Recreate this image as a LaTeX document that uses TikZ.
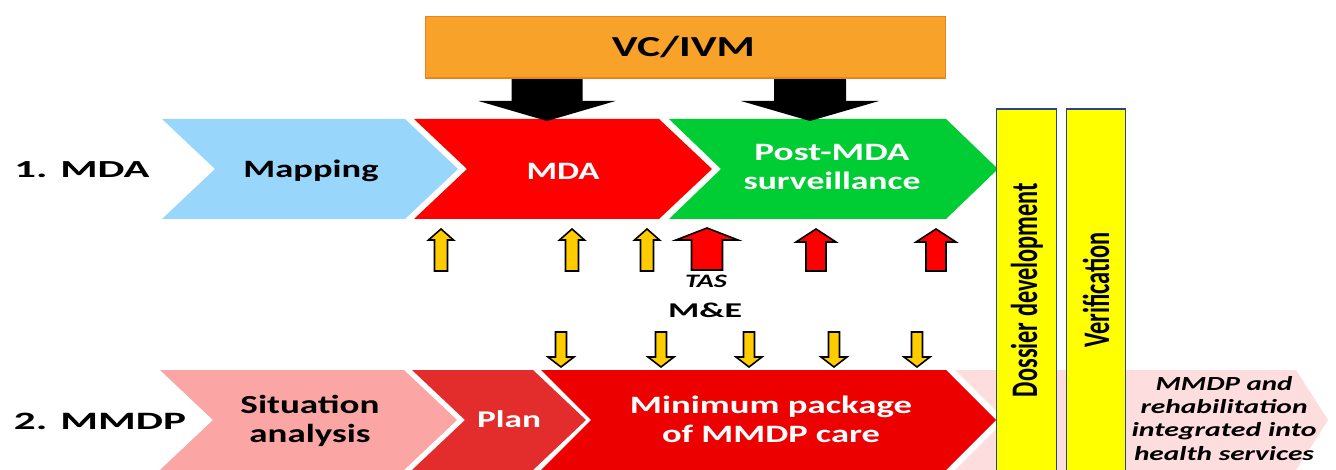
\documentclass[tikz,border=0pt]{standalone}
\usepackage{fontspec}
\setmainfont{Carlito}
\usepackage{graphicx}
\newcommand{\fitw}[2]{\resizebox{#1}{\height}{#2}}
\newcommand{\wide}[1]{\scalebox{1.5}[1]{#1}}
\definecolor{cMap}{RGB}{153,214,252}
\definecolor{cMDA}{RGB}{255,0,0}
\definecolor{cPost}{RGB}{0,204,51}
\definecolor{cSit}{RGB}{251,165,165}
\definecolor{cPlan}{RGB}{227,45,45}
\definecolor{cMin}{RGB}{236,0,0}
\definecolor{cInt}{RGB}{253,221,221}
\definecolor{cOrange}{RGB}{249,162,42}
\definecolor{cOrangeB}{RGB}{232,132,30}
\definecolor{cYel}{RGB}{255,255,0}
\definecolor{cBoxB}{RGB}{40,70,140}
\definecolor{cGold}{RGB}{255,204,0}
% chevron: colour, left, right, top, depth
\newcommand{\chevron}[5]{\fill[#1] (#2,#4) -- (#3,#4) -- ({#3+#5},{#4+50}) -- (#3,{#4+100}) -- (#2,{#4+100}) -- ({#2+#5},{#4+50}) -- cycle;}
% block arrow: style, cx, tip y, head base y, end y, head half width, shaft half width
\newcommand{\barrow}[7]{\filldraw[#1] (#2,#3) -- ({#2+#6},#4) -- ({#2+#7},#4) -- ({#2+#7},#5) -- ({#2-#7},#5) -- ({#2-#7},#4) -- ({#2-#6},#4) -- cycle;}
\begin{document}
\begin{tikzpicture}[x=1pt,y=-1pt,
  lbl/.style={inner sep=0pt, anchor=base, font=\bfseries},
  ml/.style={inner sep=0pt, anchor=base, align=center, font=\bfseries},
  ybox/.style={fill=cYel, draw=cBoxB, line width=1.5pt},
  goldup/.style={fill=cGold, draw=black, line width=1.6pt, line join=miter},
  redup/.style={fill=cMDA, draw=black, line width=1.6pt, line join=miter},
  blk/.style={fill=black, draw=none}]
\useasboundingbox (0,0) rectangle (1336,470);
\fill[white] (0,0) rectangle (1336,470);

% row 1 chevrons
\chevron{cMap}{162}{405}{119}{53}
\chevron{cMDA}{414}{659}{119}{53}
\chevron{cPost}{669}{946}{119}{52}
% row 2 chevrons
\fill[cInt] (955,370) -- (1296,370) -- (1328,420) -- (1296,470) -- (955,470) -- (1005,420) -- cycle;
\chevron{cSit}{160}{404}{370}{53}
\chevron{cPlan}{412}{533}{370}{53}
\chevron{cMin}{541}{946}{370}{50}

% vertical boxes
\draw[ybox] (996.5,109) rectangle (1056.5,476);
\draw[ybox] (1066.5,109) rectangle (1125.5,476);
\node[inner sep=0pt] (dossier) at (1027,290) {\wide{\rotatebox{90}{\fitw{214pt}{\fontsize{25}{30}\selectfont\bfseries Dossier development}}}};
\node[inner sep=0pt] (verif) at (1096,290) {\wide{\rotatebox{90}{\fitw{116pt}{\fontsize{25}{30}\selectfont\bfseries Verification}}}};

% VC/IVM box and arrows
\barrow{blk}{547}{121}{101}{78}{68.5}{35.5}
\barrow{blk}{810}{121}{101}{78}{69}{36}
\draw[fill=cOrange, draw=cOrangeB, line width=1.2pt] (425.5,16.5) rectangle (945.5,78);
\node[lbl] (vc) at (683.5,57) {\fitw{143pt}{\fontsize{29}{33}\selectfont VC/IVM}};

% up arrows
\barrow{goldup}{441}{229}{240}{271}{12.5}{6.5}
\barrow{goldup}{572}{229}{240}{271}{12.5}{6.5}
\barrow{goldup}{647}{229}{240}{271}{12.5}{6.5}
\barrow{redup}{707}{228}{240}{270}{31}{15.5}
\barrow{redup}{816}{229}{242}{271}{20}{10}
\barrow{redup}{936}{229}{242}{271}{20}{10}
% down arrows
\barrow{goldup}{561}{367}{357}{332}{13}{5.5}
\barrow{goldup}{661}{367}{357}{332}{13}{5.5}
\barrow{goldup}{749}{367}{357}{332}{13}{5.5}
\barrow{goldup}{834}{367}{357}{332}{13}{5.5}
\barrow{goldup}{917}{367}{357}{332}{13}{5.5}

% labels
\node[lbl] (tas) at (706,288) {\fitw{42pt}{\fontsize{19}{22}\selectfont\itshape TAS}};
\node[lbl] (me) at (705,318) {\fitw{74pt}{\fontsize{21}{24}\selectfont M\&E}};

\node[lbl] (l1) at (82,178) {\fitw{135pt}{\fontsize{24.5}{27}\selectfont 1. MDA}};
\node[lbl] (l2) at (100,429) {\fitw{172pt}{\fontsize{25}{27}\selectfont 2. MMDP}};

\node[lbl] (mapping) at (311,178) {\fitw{135pt}{\fontsize{25}{27}\selectfont Mapping}};
\node[lbl, text=white] (mda) at (563,180) {\fitw{73pt}{\fontsize{25}{27}\selectfont MDA}};
\node[ml, text=white, font=\bfseries\fontsize{25}{29}\selectfont] (post) at (832,190) {\fitw{155pt}{Post-MDA}\\\fitw{177pt}{surveillance}};

\node[ml, font=\bfseries\fontsize{26}{29}\selectfont] (sit) at (310,442) {\fitw{139pt}{Situation}\\\fitw{121pt}{analysis}};
\node[lbl, text=white] (plan) at (509,427) {\fitw{64pt}{\fontsize{24}{27}\selectfont Plan}};
\node[ml, text=white, font=\bfseries\fontsize{25}{29}\selectfont] (mincare) at (771,442) {\fitw{282pt}{Minimum package}\\\fitw{218pt}{of MMDP care}};
\node[ml, font=\bfseries\itshape\fontsize{20}{23.3}\selectfont] (integ) at (1224,460) {\fitw{137pt}{MMDP and}\\\fitw{167pt}{rehabilitation}\\\fitw{185pt}{integrated into}\\\fitw{180pt}{health services}};
\end{tikzpicture}
\end{document}
